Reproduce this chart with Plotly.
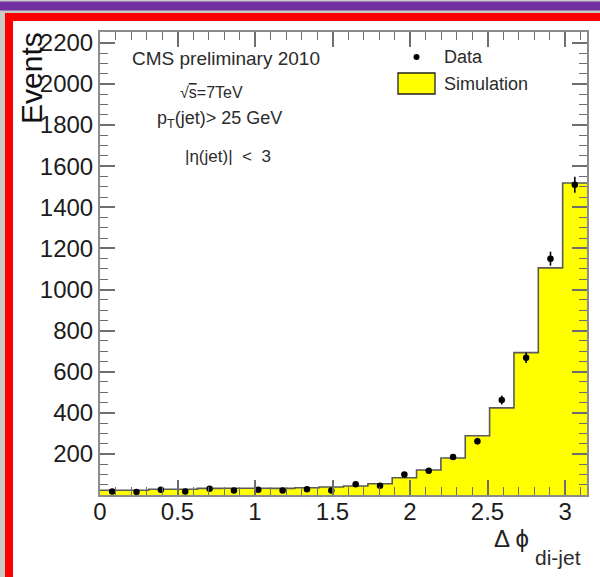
import numpy as np
import plotly.graph_objects as go

# Delta phi between the two leading jets, 20 bins over [0, pi]
n_bins = 20
data_events = [17, 15, 25, 17, 30, 22, 25, 22, 28, 22,
               52, 45, 100, 118, 185, 262, 462, 668, 1150, 1510]
sim_events = [23, 23, 28, 28, 32, 33, 33, 32, 35, 39,
              44, 55, 84, 122, 180, 288, 424, 693, 1105, 1518]
y_tick_values = [200, 400, 600, 800, 1000, 1200, 1400, 1600, 1800, 2000, 2200]
x_tick_values = [0, 0.5, 1, 1.5, 2, 2.5, 3]
x_tick_labels = ["0", "0.5", "1", "1.5", "2", "2.5", "3"]

edges = np.linspace(0, np.pi, n_bins + 1)
centers = 0.5 * (edges[:-1] + edges[1:])
data_err = np.sqrt(np.array(data_events, dtype=float))

W, H = 600, 577
L, R, T, B = 100, 587, 32, 495   # plot frame in pixels


def fx(px):
    return (px - L) / (R - L)


def fy(py):
    return (B - py) / (B - T)


FONT = "Liberation Sans, Arial, Helvetica, sans-serif"
fig = go.Figure()

# simulation histogram drawn as a filled step outline
fig.add_trace(go.Scatter(
    x=edges, y=list(sim_events) + [sim_events[-1]],
    mode="lines", line=dict(shape="hv", color="#5a5a5a", width=1.6),
    fill="tozeroy", fillcolor="#ffff00", showlegend=False, hoverinfo="skip",
))

# data points with Poisson errors
fig.add_trace(go.Scatter(
    x=centers, y=data_events, mode="markers",
    marker=dict(color="black", size=6.5),
    error_y=dict(type="data", array=data_err, color="black", thickness=1.6, width=0),
    showlegend=False,
))

# slide background: grey paper, purple band, red frame, white panel
shapes = [
    dict(type="rect", xref="paper", yref="paper", layer="below",
         x0=fx(0), x1=fx(W), y0=fy(1.5), y1=fy(10.5),
         fillcolor="#7131a1", line=dict(width=0)),
    dict(type="rect", xref="paper", yref="paper", layer="below",
         x0=fx(5), x1=fx(W + 5), y0=fy(13), y1=fy(H + 5),
         fillcolor="#ff0000", line=dict(width=0)),
    dict(type="rect", xref="paper", yref="paper", layer="below",
         x0=fx(13), x1=fx(W + 5), y0=fy(21), y1=fy(H + 5),
         fillcolor="#ffffff", line=dict(width=0)),
    # legend: data dot and simulation box
    dict(type="circle", xref="paper", yref="paper",
         x0=fx(413.5), x1=fx(419.5), y0=fy(54), y1=fy(60),
         fillcolor="black", line=dict(width=0)),
    dict(type="rect", xref="paper", yref="paper",
         x0=fx(398), x1=fx(435), y0=fy(73), y1=fy(94),
         fillcolor="#ffff00", line=dict(color="#222222", width=1.3)),
]

txt = "#2b2b2b"
annotations = [
    dict(text="CMS preliminary 2010", x=fx(226), y=fy(58), size=19),
    dict(text="√<span style='text-decoration:overline'>s</span>=7TeV",
         x=fx(211), y=fy(92), size=16),
    dict(text="p<sub>T</sub>(jet)> 25 GeV", x=fx(155), y=fy(119), size=18, xanchor="left"),
    dict(text="|η(jet)|  <  3", x=fx(183), y=fy(156), size=17, xanchor="left"),
    dict(text="Data", x=fx(442), y=fy(57), size=18, xanchor="left"),
    dict(text="Simulation", x=fx(442), y=fy(84), size=18, xanchor="left"),
    dict(text="Events", x=fx(31), y=fy(78), size=30, textangle=-90, color="#111111"),
    dict(text="Δ ϕ", x=fx(531), y=fy(538), size=24, xanchor="right", color="#222222"),
    dict(text="di-jet", x=fx(533), y=fy(557), size=21, xanchor="left"),
]
ann_objs = []
for a in annotations:
    ann_objs.append(dict(
        text=a["text"], x=a["x"], y=a["y"], xref="paper", yref="paper",
        xanchor=a.get("xanchor", "center"), yanchor="middle",
        textangle=a.get("textangle", 0), showarrow=False,
        font=dict(family=FONT, size=a["size"], color=a.get("color", txt)),
    ))

axis_common = dict(
    showline=True, linecolor="#8c8c8c", linewidth=2, mirror="allticks",
    ticks="inside", tickcolor="#6e6e6e", tickwidth=1.5,
    showgrid=False, zeroline=False,
    tickfont=dict(family=FONT, size=24, color="#1c1c1c"),
)

fig.update_layout(
    width=W, height=H, autosize=False,
    margin=dict(l=L, r=W - R, t=T, b=H - B, pad=0),
    paper_bgcolor="#cbcbc6", plot_bgcolor="#ffffff",
    shapes=shapes, annotations=ann_objs, showlegend=False,
    xaxis=dict(range=[0, np.pi], tickvals=x_tick_values, ticktext=x_tick_labels,
               ticklen=15, ticklabelstandoff=-6,
               minor=dict(dtick=0.1, tick0=0, ticks="inside", ticklen=8,
                          tickcolor="#6e6e6e", tickwidth=1.3),
               **axis_common),
    yaxis=dict(range=[0, 2253], tickvals=y_tick_values,
               ticktext=[str(v) for v in y_tick_values], ticklen=15,
               minor=dict(dtick=50, tick0=0, ticks="inside", ticklen=8,
                          tickcolor="#6e6e6e", tickwidth=1.3),
               **axis_common),
)

fig.write_html("out.html")
